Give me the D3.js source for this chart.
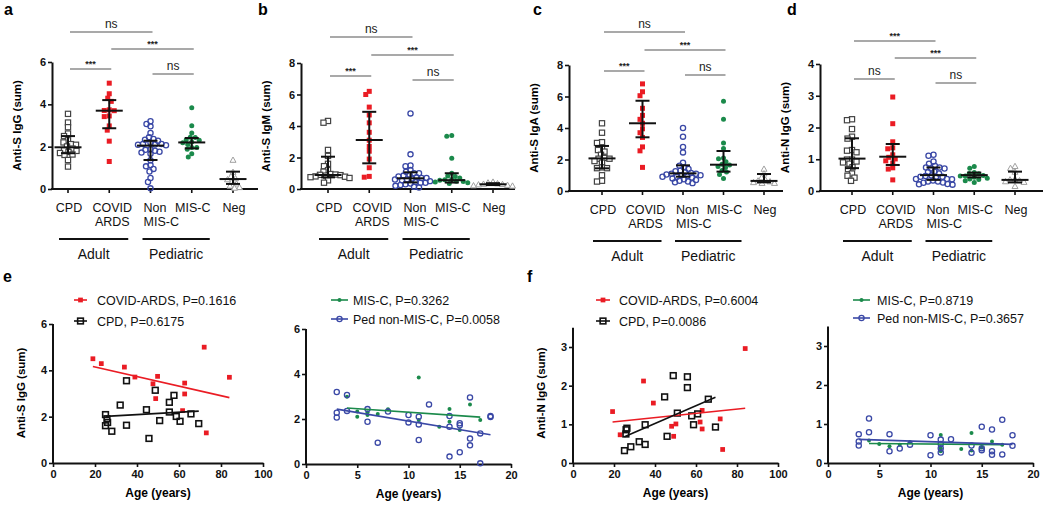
<!DOCTYPE html>
<html><head><meta charset="utf-8">
<script src="https://cdn.jsdelivr.net/npm/d3@7"></script>
<style>
body{margin:0;background:#fff}
text{font-family:Arial,"Liberation Sans",sans-serif}
</style>
</head><body>
<svg id="chart" width="1050" height="508"></svg>
<script>
// ---------------- DATA ----------------
const categories = ["CPD", "COVID ARDS", "Non MIS-C", "MIS-C", "Neg"];
const catLabelLines = [["CPD"], ["COVID", "ARDS"], ["Non", "MIS-C"], ["MIS-C"], ["Neg"]];
const groupLabels = ["Adult", "Pediatric"];

// panel a: Anti-S IgG (sum)
const antiS_IgG = [
  [2.09,1.61,1.91,1.75,1.37,2.5,3.55,1.63,2.3,1.06,3.14,1.83,2.62,2.2,2.92,2.01,1.8,2.12,1.7],
  [4.5,4.29,4.14,3.71,3.42,3.74,2.78,3.45,2.98,2.26,5.0,1.3,3.7],
  [3.2,2.28,2.07,3.07,2.36,2.44,1.88,0.95,2.33,2.18,1.85,2.1,1.76,1.07,2.65,2.13,1.66,0.33,1.81,1.72,0.52,2.96,1.13,0.83,1.36,0.03,2.13,2.09],
  [2.99,2.1,2.33,2.3,2.18,2.22,2.43,3.84,1.96,1.66,2.44,1.88,1.51,2.65,1.96],
  [1.37,0.8,0.6,0.5,0.45,0.35,0.25,0.15,0.08,0.05]
];
const antiS_IgG_stats = [[1.97,1.69,2.5],[3.7,2.87,4.2],[2.05,1.37,2.28],[2.2,1.92,2.41],[0.47,0.24,0.82]];

// panel b: Anti-S IgM (sum)
const antiS_IgM = [
  [4.32,4.21,2.48,2.1,1.6,1.45,1.2,1.1,0.95,0.92,0.9,0.88,0.85,0.8,0.78,0.75,0.7,0.55,0.4],
  [6.2,6.0,5.2,4.7,4.2,3.6,3.1,2.7,2.4,1.9,1.35,0.8,0.75],
  [4.8,2.2,1.5,1.45,1.2,1.1,1.0,1.0,0.9,0.85,0.8,0.75,0.7,0.7,0.65,0.6,0.6,0.55,0.5,0.45,0.4,0.4,0.35,0.3,0.25,0.2,0.15,0.1],
  [3.4,3.35,1.95,1.0,0.82,0.8,0.7,0.6,0.58,0.55,0.5,0.48,0.45,0.4,0.35],
  [0.45,0.4,0.35,0.32,0.3,0.28,0.25,0.22,0.2]
];
const antiS_IgM_stats = [[0.89,0.74,2.05],[3.11,1.63,4.9],[0.68,0.42,1.06],[0.56,0.41,1.0],[0.3,0.25,0.37]];

// panel c: Anti-S IgA (sum)
const antiS_IgA = [
  [4.3,3.7,3.1,3.05,2.75,2.6,2.5,2.3,2.1,2.05,2.05,1.9,1.8,1.5,1.45,1.45,1.0,0.65,0.6],
  [6.8,6.3,6.05,5.25,4.8,4.55,4.3,3.95,3.7,3.4,2.8,2.55,1.5],
  [4.0,3.45,2.8,2.45,1.8,1.6,1.5,1.4,1.3,1.25,1.2,1.15,1.1,1.1,1.05,1.0,1.0,0.95,0.9,0.9,0.85,0.8,0.75,0.7,0.65,0.6,0.55,0.5],
  [5.7,4.55,3.05,2.7,2.1,2.05,1.85,1.7,1.65,1.55,1.5,1.3,1.2,1.05,0.8],
  [1.4,1.1,0.85,0.7,0.65,0.6,0.55,0.5,0.5]
];
const antiS_IgA_stats = [[2.07,1.44,2.86],[4.3,3.41,5.73],[1.12,0.91,1.63],[1.67,1.23,2.54],[0.64,0.55,1.08]];

// panel d: Anti-N IgG (sum)
const antiN_IgG = [
  [0.32,0.86,0.9,0.75,0.42,0.55,0.99,0.48,1.71,0.69,2.26,1.29,2.23,1.95,1.22,0.99,1.27,1.65,0.93],
  [1.33,0.73,2.12,1.55,0.95,1.01,0.69,1.06,0.88,1.36,1.14,0.35,2.96],
  [0.74,0.55,0.45,1.14,0.79,0.74,0.3,0.37,0.47,0.71,0.2,0.6,0.49,0.38,0.27,0.61,0.45,0.26,0.93,0.38,0.33,0.86,0.3,0.21,1.11,0.22,0.71,0.44],
  [0.58,0.49,0.43,0.47,0.54,0.72,0.38,0.27,0.36,0.77,0.32,0.4,0.55,0.47],
  [0.78,0.72,0.6,0.38,0.36,0.33,0.3,0.28,0.15]
];
const antiN_IgG_stats = [[1.02,0.72,1.66],[1.08,0.82,1.48],[0.5,0.35,0.74],[0.5,0.43,0.58],[0.35,0.27,0.61]];

// significance: [fromCategoryIndex, toCategoryIndex, label]
const sigA = [[0,2,"ns"],[1,3,"***"],[0,1,"***"],[2,3,"ns"]];
const sigB = [[0,2,"ns"],[1,3,"***"],[0,1,"***"],[2,3,"ns"]];
const sigC = [[0,2,"ns"],[1,3,"***"],[0,1,"***"],[2,3,"ns"]];
const sigD = [[0,2,"***"],[1,3,"***"],[0,1,"ns"],[2,3,"ns"]];

// panel e/f: [age, value]
const eCOVID = [[19,4.5],[23,4.29],[34,4.14],[39,3.71],[47.6,3.42],[49.8,3.74],[48.9,2.78],[62.7,3.45],[62.7,2.98],[61.7,2.26],[72,5.0],[73,1.3],[84,3.7]];
const eCPD = [[25,2.09],[25,1.61],[25.7,1.91],[26,1.75],[28,1.37],[32,2.5],[35,3.55],[35,1.63],[44.5,2.3],[45.7,1.06],[48.7,3.14],[50.8,1.83],[55.4,2.62],[55.4,2.2],[57.6,2.92],[58.7,2.01],[60.5,1.8],[65.7,2.12],[69.4,1.7]];
const eMISC = [[4,2.99],[5,2.1],[5,2.33],[6,2.3],[6,2.18],[7,2.22],[8,2.43],[11,3.84],[11,1.96],[13,1.66],[14,2.44],[14,1.88],[15,1.51],[16,2.65],[17,1.96]];
const ePed = [[3,3.2],[3,2.28],[3,2.07],[4,3.07],[4,2.36],[6,2.44],[6,1.88],[7,0.95],[8,2.33],[10,2.18],[10,1.85],[11,2.1],[11,1.76],[11,1.07],[12,2.65],[14,2.13],[14,1.66],[14,0.33],[15,1.81],[15,1.72],[15,0.52],[16,2.96],[16,1.13],[16,0.83],[17,1.36],[17,0.03],[18,2.13],[18,2.09]];
const fCOVID = [[19.3,1.33],[23,0.73],[34.4,2.12],[39.2,1.55],[48.1,0.95],[50.2,1.01],[49.1,0.69],[62,1.06],[63,0.88],[63,1.36],[71.8,1.14],[73,0.35],[84,2.96]];
const fCPD = [[25.1,0.32],[25.9,0.86],[26.3,0.9],[25.8,0.75],[28.2,0.42],[32.3,0.55],[35.2,0.99],[35.2,0.48],[44.7,1.71],[45.9,0.69],[48.9,2.26],[50.9,1.29],[55.8,2.23],[55.8,1.95],[57.9,1.22],[58.8,0.99],[60.8,1.27],[66,1.65],[69.5,0.93]];
const fMISC = [[4,0.58],[5,0.49],[6,0.43],[7,0.47],[8,0.54],[11,0.72],[11,0.38],[11,0.3],[13,0.36],[14,0.77],[14,0.32],[15,0.4],[16,0.55],[17,0.47]];
const fPed = [[3,0.74],[3,0.55],[3,0.45],[4,1.14],[4,0.79],[6,0.74],[6,0.3],[7,0.37],[8,0.47],[10,0.71],[10,0.2],[11,0.6],[11,0.49],[11,0.38],[11,0.27],[12,0.61],[14,0.45],[14,0.26],[15,0.93],[15,0.38],[15,0.33],[16,0.86],[16,0.3],[16,0.21],[17,1.11],[17,0.22],[18,0.71],[18,0.44]];
const legendE1 = ["COVID-ARDS, P=0.1616", "CPD, P=0.6175"];
const legendE2 = ["MIS-C, P=0.3262", "Ped non-MIS-C, P=0.0058"];
const legendF1 = ["COVID-ARDS, P=0.6004", "CPD, P=0.0086"];
const legendF2 = ["MIS-C, P=0.8719", "Ped non-MIS-C, P=0.3657"];

// ---------------- STYLE ----------------
const RED = "#ea1c24", GREEN = "#1b8a4b", BLUE = "#3a48a6", DARK = "#444", GRAY = "#a0a0a0";
const svg = d3.select("#chart");

function marker(sel, kind, x, y, s) {
  s = s || 1;
  if (kind === "osq") sel.append("rect").attr("x", x - 2.6*s).attr("y", y - 2.6*s).attr("width", 5.2*s).attr("height", 5.2*s).attr("fill", "#fff").attr("stroke", DARK).attr("stroke-width", 1.2);
  else if (kind === "osqk") sel.append("rect").attr("x", x - 3*s).attr("y", y - 3*s).attr("width", 6*s).attr("height", 6*s).attr("fill", "none").attr("stroke", "#111").attr("stroke-width", 1.6);
  else if (kind === "rsq") sel.append("rect").attr("x", x - 2.5*s).attr("y", y - 2.5*s).attr("width", 5*s).attr("height", 5*s).attr("fill", RED);
  else if (kind === "bci") sel.append("circle").attr("cx", x).attr("cy", y).attr("r", 2.6*s).attr("fill", "none").attr("stroke", BLUE).attr("stroke-width", 1.3);
  else if (kind === "gdot") sel.append("circle").attr("cx", x).attr("cy", y).attr("r", 2.5*s).attr("fill", GREEN);
  else if (kind === "tri") sel.append("path").attr("d", `M${x},${y-3}L${x+3},${y+2.3}L${x-3},${y+2.3}Z`).attr("fill", "#fff").attr("stroke", GRAY).attr("stroke-width", 1);
}
const groupMarkers = ["osq", "rsq", "bci", "gdot", "tri"];

function swarm(vals, y, d) {
  const items = vals.map(v => ({v, py: y(v)})).sort((a, b) => a.py - b.py);
  const placed = [];
  items.forEach(it => {
    let best = 0;
    for (let k = 0; k < 400; k++) {
      const off = (k % 2 === 0 ? 1 : -1) * Math.ceil(k / 2) * 0.5;
      const ok = placed.every(p => (p.dx - off) ** 2 + (p.py - it.py) ** 2 >= d * d);
      if (ok) { best = off; break; }
    }
    it.dx = best; placed.push(it);
  });
  return items;
}

function styleAxis(g) {
  g.select(".domain").attr("stroke", "#111").attr("stroke-width", 2);
  g.selectAll(".tick line").attr("stroke", "#111").attr("stroke-width", 1.6);
  g.selectAll(".tick text").attr("font-size", 11).attr("font-weight", "bold").attr("fill", "#111");
}

function dotPanel(o) {
  const y = d3.scaleLinear().domain([0, o.yMax]).range([o.y0, o.yTop]);
  const x = d3.scalePoint().domain(categories).range(o.catRange);
  const g = svg.append("g");
  // axes
  const ya = g.append("g").attr("transform", `translate(${o.ax},0)`)
    .call(d3.axisLeft(y).tickValues(o.ticks).tickSize(4).tickSizeOuter(0).tickPadding(2).tickFormat(d3.format("d")));
  styleAxis(ya);
  g.append("line").attr("x1", o.ax - 1).attr("x2", o.xEnd).attr("y1", o.y0).attr("y2", o.y0).attr("stroke", "#111").attr("stroke-width", 2);
  categories.forEach(c => g.append("line").attr("x1", x(c)).attr("x2", x(c)).attr("y1", o.y0).attr("y2", o.y0 + 4).attr("stroke", "#111").attr("stroke-width", 1.6));
  // y label
  g.append("text").attr("transform", `translate(${o.ax - 31},${(o.y0 + o.yTop) / 2}) rotate(-90)`)
    .attr("text-anchor", "middle").attr("font-size", 11.5).attr("font-weight", "bold").text(o.ylab);
  // points
  o.data.forEach((vals, i) => {
    const cx = x(categories[i]);
    swarm(vals, y, 4.6).forEach(p => marker(g, groupMarkers[i], cx + p.dx, p.py));
  });
  // median + IQR
  o.stats.forEach((s, i) => {
    const cx = x(categories[i]);
    const [m, q1, q3] = s;
    g.append("line").attr("x1", cx).attr("x2", cx).attr("y1", y(q1)).attr("y2", y(q3)).attr("stroke", "#111").attr("stroke-width", 2);
    [q1, q3].forEach(q => g.append("line").attr("x1", cx - 7).attr("x2", cx + 7).attr("y1", y(q)).attr("y2", y(q)).attr("stroke", "#111").attr("stroke-width", 2));
    g.append("line").attr("x1", cx - 13.5).attr("x2", cx + 13.5).attr("y1", y(m)).attr("y2", y(m)).attr("stroke", "#111").attr("stroke-width", 2);
  });
  // category labels
  catLabelLines.forEach((lines, i) => {
    const cx = x(categories[i]);
    lines.forEach((t, j) => {
      const tx = g.append("text").attr("y", o.y0 + 23 + j * 14).attr("font-size", 12.5).attr("fill", "#111").text(t);
      if (i === 2) tx.attr("x", cx - 7).attr("text-anchor", "start");
      else tx.attr("x", cx + (i === 1 ? 3 : 1)).attr("text-anchor", "middle");
    });
  });
  // group lines
  const grp = [[x(categories[0]) - 9, x(categories[1]) + 19], [x(categories[2]) - 8, x(categories[3]) + 18]];
  grp.forEach((r, i) => {
    g.append("line").attr("x1", r[0]).attr("x2", r[1]).attr("y1", o.y0 + 50).attr("y2", o.y0 + 50).attr("stroke", "#111").attr("stroke-width", 2);
    g.append("text").attr("x", (r[0] + r[1]) / 2).attr("y", o.y0 + 70).attr("text-anchor", "middle").attr("font-size", 14).attr("fill", "#111").text(groupLabels[i]);
  });
  // significance
  o.sig.forEach((s, k) => {
    const yy = o.sigY[k];
    const x1 = x(categories[s[0]]) + 2, x2 = x(categories[s[1]]) + 2;
    g.append("line").attr("x1", x1).attr("x2", x2).attr("y1", yy).attr("y2", yy).attr("stroke", "#555").attr("stroke-width", 1.2);
    const t = g.append("text").attr("x", (x1 + x2) / 2).attr("text-anchor", "middle").attr("fill", "#222").text(s[2]);
    if (s[2] === "ns") t.attr("y", yy - 4).attr("font-size", 12);
    else t.attr("y", yy - 2).attr("font-size", 9).attr("font-weight", "bold");
  });
  // letter
  svg.append("text").attr("x", o.letterX).attr("y", 15).attr("font-size", 16).attr("font-weight", "bold").text(o.letter);
}

dotPanel({ax: 52, y0: 189, yTop: 62, yMax: 6, ticks: [0,2,4,6], xEnd: 258, catRange: [68,233], data: antiS_IgG, stats: antiS_IgG_stats, sig: sigA, sigY: [32,49,69,74], ylab: "Anti-S IgG (sum)", letter: "a", letterX: 4});
dotPanel({ax: 301, y0: 189, yTop: 63, yMax: 8, ticks: [0,2,4,6,8], xEnd: 515, catRange: [328,493], data: antiS_IgM, stats: antiS_IgM_stats, sig: sigB, sigY: [37,55,76,80], ylab: "Anti-S IgM (sum)", letter: "b", letterX: 258});
dotPanel({ax: 569, y0: 191, yTop: 65, yMax: 8, ticks: [0,2,4,6,8], xEnd: 783, catRange: [602,764], data: antiS_IgA, stats: antiS_IgA_stats, sig: sigC, sigY: [32,50,71,75], ylab: "Anti-S IgA (sum)", letter: "c", letterX: 533});
dotPanel({ax: 820, y0: 191, yTop: 64, yMax: 4, ticks: [0,1,2,3,4], xEnd: 1043, catRange: [852,1015], data: antiN_IgG, stats: antiN_IgG_stats, sig: sigD, sigY: [41,58,79,83], ylab: "Anti-N IgG (sum)", letter: "d", letterX: 787});

function fit(pts) {
  const mx = d3.mean(pts, p => p[0]), my = d3.mean(pts, p => p[1]);
  const b = d3.sum(pts, p => (p[0] - mx) * (p[1] - my)) / d3.sum(pts, p => (p[0] - mx) ** 2);
  return [b, my - b * mx];
}

function scatterPanel(o) {
  const x = d3.scaleLinear().domain([0, o.xMax]).range([o.x0, o.x1]);
  const y = d3.scaleLinear().domain([0, o.yRef]).range([o.y0, o.yRefPx]);
  const g = svg.append("g");
  const xa = g.append("g").attr("transform", `translate(0,${o.y0})`)
    .call(d3.axisBottom(x).tickValues(o.xTicks).tickSize(4).tickSizeOuter(0).tickPadding(3));
  styleAxis(xa);
  const ya = g.append("g").attr("transform", `translate(${o.x0},0)`)
    .call(d3.axisLeft(y).tickValues(o.yTicks).tickSize(4).tickSizeOuter(0).tickPadding(2).tickFormat(d3.format("d")));
  ya.select(".domain").remove();
  styleAxis(ya);
  g.append("line").attr("x1", o.x0).attr("x2", o.x0).attr("y1", o.y0 + 1).attr("y2", y(o.yAxisMax)).attr("stroke", "#111").attr("stroke-width", 2);
  g.append("text").attr("x", (o.x0 + o.x1) / 2).attr("y", o.y0 + 34).attr("text-anchor", "middle").attr("font-size", 12).attr("font-weight", "bold").text("Age (years)");
  if (o.ylab) g.append("text").attr("transform", `translate(${o.x0 - 28},${o.y0 - 70}) rotate(-90)`)
    .attr("text-anchor", "middle").attr("font-size", 11.5).attr("font-weight", "bold").text(o.ylab);
  o.series.forEach(s => {
    s.data.forEach(p => marker(g, s.kind, x(p[0]), y(p[1]), s.scale));
  });
  o.series.forEach(s => {
    const [b, a] = fit(s.data);
    const xs = d3.extent(s.data, p => p[0]);
    g.append("line").attr("x1", x(xs[0])).attr("x2", x(xs[1])).attr("y1", y(a + b * xs[0])).attr("y2", y(a + b * xs[1]))
      .attr("stroke", s.color).attr("stroke-width", 1.6);
  });
  // legend
  o.series.forEach((s, i) => {
    const ly = o.legY[i];
    g.append("line").attr("x1", o.legX).attr("x2", o.legX + o.legW).attr("y1", ly).attr("y2", ly).attr("stroke", s.color).attr("stroke-width", 1.6);
    marker(g, s.kind, o.legX + o.legW / 2, ly, s.scale);
    g.append("text").attr("x", o.legTextX).attr("y", ly + 4.5).attr("font-size", 12.5).attr("fill", "#111").text(o.legend[i]);
  });
}

scatterPanel({x0: 53, x1: 263, xMax: 100, xTicks: [0,20,40,60,80,100], y0: 463, yRef: 6, yRefPx: 324, yAxisMax: 6, yTicks: [0,2,4,6], ylab: "Anti-S IgG (sum)",
  series: [{data: eCOVID, kind: "rsq", color: RED, scale: 0.95}, {data: eCPD, kind: "osqk", color: "#111", scale: 0.95}],
  legend: legendE1, legY: [300, 321], legX: 74, legW: 13, legTextX: 97});
scatterPanel({x0: 306, x1: 511, xMax: 20, xTicks: [0,5,10,15,20], y0: 464, yRef: 6, yRefPx: 329, yAxisMax: 6, yTicks: [0,2,4,6], ylab: null,
  series: [{data: eMISC, kind: "gdot", color: GREEN, scale: 0.8}, {data: ePed, kind: "bci", color: BLUE, scale: 1}],
  legend: legendE2, legY: [300, 319], legX: 331, legW: 17, legTextX: 353});
scatterPanel({x0: 573, x1: 778, xMax: 100, xTicks: [0,20,40,60,80,100], y0: 463, yRef: 3, yRefPx: 347, yAxisMax: 3.5, yTicks: [0,1,2,3], ylab: "Anti-N IgG (sum)",
  series: [{data: fCOVID, kind: "rsq", color: RED, scale: 0.95}, {data: fCPD, kind: "osqk", color: "#111", scale: 0.95}],
  legend: legendF1, legY: [300, 321], legX: 596, legW: 14, legTextX: 619});
scatterPanel({x0: 828, x1: 1033, xMax: 20, xTicks: [0,5,10,15,20], y0: 463, yRef: 3, yRefPx: 346, yAxisMax: 3.5, yTicks: [0,1,2,3], ylab: null,
  series: [{data: fMISC, kind: "gdot", color: GREEN, scale: 0.8}, {data: fPed, kind: "bci", color: BLUE, scale: 1}],
  legend: legendF2, legY: [300, 318], legX: 853, legW: 17, legTextX: 877});

svg.append("text").attr("x", 3).attr("y", 282).attr("font-size", 16).attr("font-weight", "bold").text("e");
svg.append("text").attr("x", 527).attr("y", 282).attr("font-size", 16).attr("font-weight", "bold").text("f");
</script>
</body></html>
